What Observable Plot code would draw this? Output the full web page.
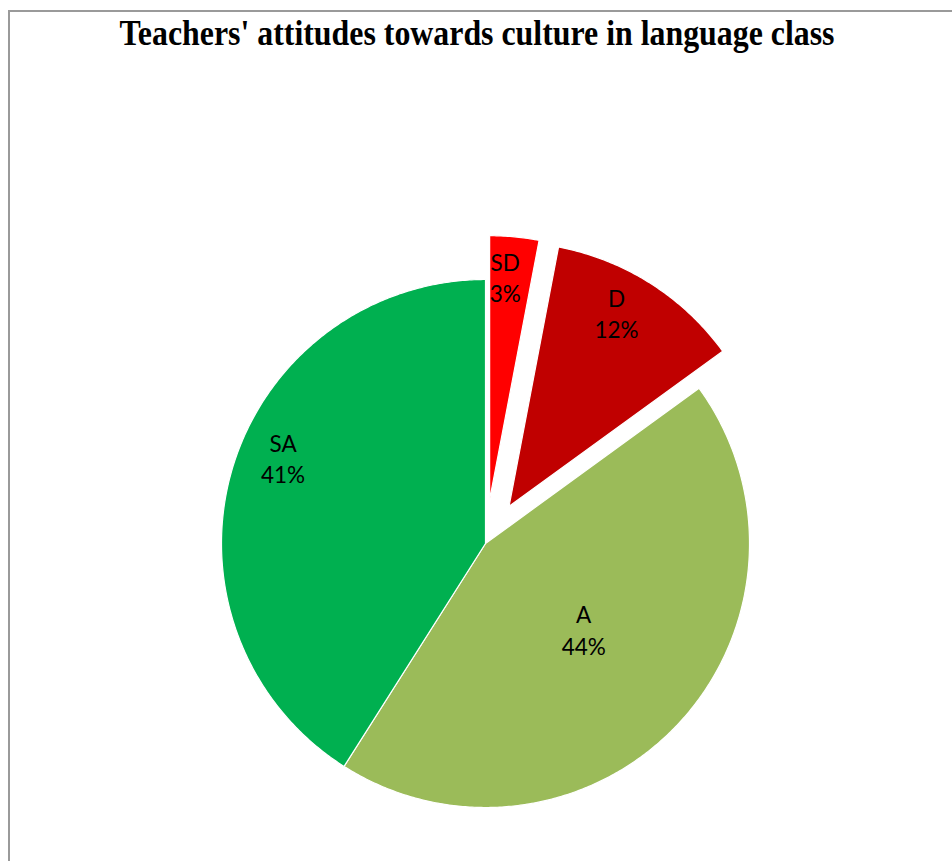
<!DOCTYPE html>
<html>
<head>
<meta charset="utf-8">
<script src="https://cdn.jsdelivr.net/npm/d3@7"></script>
<script src="https://cdn.jsdelivr.net/npm/@observablehq/plot@0.6"></script>
<style>
  body { margin: 0; background: #fff; }
  #wrap { position: relative; width: 952px; height: 861px; overflow: hidden; background: #fff; }
  #frame { position: absolute; left: 8px; top: 10px; width: 1000px; height: 900px;
           border-left: 2px solid #9a9a9a; border-top: 2px solid #9a9a9a; }
  #chart { position: absolute; left: 0; top: 0; }
  #title { position: absolute; top: 16px; left: 476.5px; white-space: nowrap;
           font-family: "Liberation Serif", "Times New Roman", serif; font-weight: bold;
           font-size: 35px; line-height: 35px; color: #000; transform-origin: 50% 50%; }
</style>
</head>
<body>
<div id="wrap">
  <div id="frame"></div>
  <div id="chart"></div>
  <span id="title">Teachers' attitudes towards culture in language class</span>
</div>
<script>
// ---- data ----
const categories = ["SD", "D", "A", "SA"];
const percents = [3, 12, 44, 41];
const colors = ["#FF0000", "#C00000", "#9BBB59", "#00B050"];
const explodedCategories = ["SD", "D"];

// ---- layout ----
const W = 952, H = 861;
const cx = 485, cy = 543, R = 264;
const explodePx = 44;
const labelNudge = { SD: [-5, -5], D: [-10, -9], A: [2, -5], SA: [8, -25] };

const rows = categories.map((c, i) => ({ label: c, value: percents[i] }));
const arcs = d3.pie().sort(null).value(d => d.value).startAngle(0).endAngle(2 * Math.PI)(rows);

const polyPts = [];
const labelPts = [];
const total = d3.sum(percents);
for (const a of arcs) {
  const lab = a.data.label;
  const mid = (a.startAngle + a.endAngle) / 2;
  const off = explodedCategories.includes(lab) ? explodePx / R : 0;
  const ox = off * Math.sin(mid), oy = off * Math.cos(mid);
  polyPts.push({ label: lab, x: ox, y: oy });
  const n = Math.max(4, Math.ceil((a.endAngle - a.startAngle) / (Math.PI / 360)));
  for (let k = 0; k <= n; k++) {
    const t = a.startAngle + (a.endAngle - a.startAngle) * k / n;
    polyPts.push({ label: lab, x: ox + Math.sin(t), y: oy + Math.cos(t) });
  }
  polyPts.push({ label: lab, x: ox, y: oy });
  const f = a.data.value / total > 0.42 ? 0.5 : 0.83;
  const nd = labelNudge[lab] || [0, 0];
  labelPts.push({
    label: lab, value: a.data.value,
    x: ox + f * Math.sin(mid) + nd[0] / R,
    y: oy + f * Math.cos(mid) - nd[1] / R
  });
}

const chart = Plot.plot({
  width: W,
  height: H,
  margin: 0,
  style: { background: "transparent" },
  x: { domain: [-1, 1], range: [cx - R, cx + R], axis: null },
  y: { domain: [-1, 1], range: [cy + R, cy - R], axis: null },
  color: { domain: categories, range: colors },
  marks: [
    Plot.line(polyPts, { x: "x", y: "y", z: "label", fill: "label", stroke: "white", strokeWidth: 1.2, curve: "linear" }),
    Plot.text(labelPts, {
      x: "x", y: "y",
      text: d => `${d.label}\n${d.value}%`,
      fontSize: 22.5, lineHeight: 1.4,
      fontFamily: "Lato, Carlito, Calibri, sans-serif",
      fill: "black"
    })
  ]
});
document.getElementById("chart").appendChild(chart);

// fit title width (condensed as in reference)
const t = document.getElementById("title");
const w = t.getBoundingClientRect().width;
t.style.transform = `translateX(-50%) scaleX(${715 / w})`;
</script>
</body>
</html>
